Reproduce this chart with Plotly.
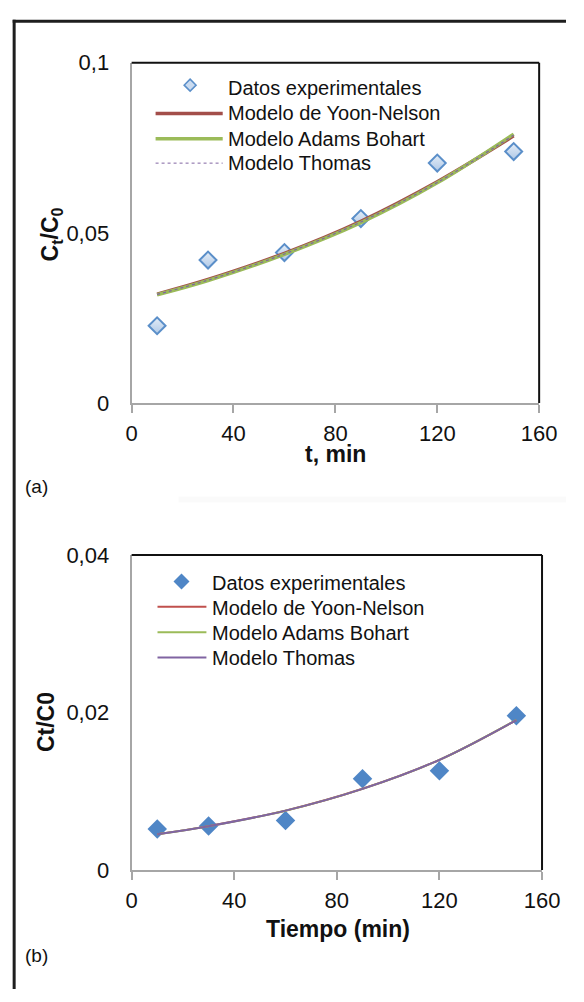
import plotly.graph_objects as go

# ---------------- data ----------------
t_a = [10, 30, 60, 90, 120, 150]
exp_a = [0.0227, 0.0420, 0.0442, 0.0542, 0.0705, 0.0739]
yoon_a = [0.0320, 0.0363, 0.0440, 0.0534, 0.0650, 0.0785]
adams_a = [0.0318, 0.0360, 0.0437, 0.0530, 0.0647, 0.0790]
thomas_a = [0.0319, 0.0361, 0.0438, 0.0532, 0.0648, 0.0787]

t_b = [10, 30, 60, 90, 120, 150]
exp_b = [0.0052, 0.0056, 0.0063, 0.0116, 0.0126, 0.0196]
yoon_b = [0.00455, 0.00558, 0.00755, 0.01032, 0.01400, 0.01905]
adams_b = [0.00454, 0.00557, 0.00754, 0.01031, 0.01399, 0.01906]
thomas_b = [0.00455, 0.00557, 0.00755, 0.01031, 0.01400, 0.01905]

x_ticks = [0, 40, 80, 120, 160]
y_ticks_a = [0, 0.05, 0.1]
y_ticks_a_text = ["0", "0,05", "0,1"]
y_ticks_b = [0, 0.02, 0.04]
y_ticks_b_text = ["0", "0,02", "0,04"]

legend_names = ["Datos experimentales", "Modelo de Yoon-Nelson",
                "Modelo Adams Bohart", "Modelo Thomas"]

# ---------------- layout helpers ----------------
W, H = 584, 1002
FONT = "Liberation Sans, Arial, sans-serif"


def px(x):
    return x / W


def py(y):
    return 1 - y / H


RED_A = "#A34E4A"
RED_B = "#C0504D"
GREEN = "#9BBB59"
PURPLE = "#8064A2"
BLUE = "#4F86C6"
AXIS_GRAY = "#A6A6A6"

fig = go.Figure()

# ---- panel (a) ----
fig.add_trace(go.Scatter(
    x=t_a, y=exp_a, mode="markers", name=legend_names[0], xaxis="x", yaxis="y",
    marker=dict(symbol="diamond", size=13, color="#E4EDF7",
                gradient=dict(type="vertical", color="#AFC8E6"),
                line=dict(color="#5B8FC9", width=2)),
    showlegend=False))
fig.add_trace(go.Scatter(x=t_a, y=yoon_a, mode="lines", name=legend_names[1],
                         line=dict(color=RED_A, width=3.5, shape="spline"),
                         xaxis="x", yaxis="y", showlegend=False))
fig.add_trace(go.Scatter(x=t_a, y=adams_a, mode="lines", name=legend_names[2],
                         line=dict(color=GREEN, width=3.5, shape="spline"),
                         xaxis="x", yaxis="y", showlegend=False))
fig.add_trace(go.Scatter(x=t_a, y=thomas_a, mode="lines", name=legend_names[3],
                         line=dict(color=PURPLE, width=1.2, dash="dot", shape="spline"),
                         xaxis="x", yaxis="y", showlegend=False))

# ---- panel (b) ----
fig.add_trace(go.Scatter(
    x=t_b, y=exp_b, mode="markers", name=legend_names[0], xaxis="x2", yaxis="y2",
    marker=dict(symbol="diamond", size=15, color=BLUE, line=dict(width=0)),
    showlegend=False))
fig.add_trace(go.Scatter(x=t_b, y=yoon_b, mode="lines", name=legend_names[1],
                         line=dict(color=RED_B, width=2, shape="spline"),
                         xaxis="x2", yaxis="y2", showlegend=False))
fig.add_trace(go.Scatter(x=t_b, y=adams_b, mode="lines", name=legend_names[2],
                         line=dict(color=GREEN, width=2, shape="spline"),
                         xaxis="x2", yaxis="y2", showlegend=False))
fig.add_trace(go.Scatter(x=t_b, y=thomas_b, mode="lines", name=legend_names[3],
                         line=dict(color=PURPLE, width=2, shape="spline"),
                         xaxis="x2", yaxis="y2", showlegend=False))

axis_common = dict(showgrid=False, zeroline=False, showline=True,
                   linecolor=AXIS_GRAY, linewidth=2,
                   tickfont=dict(family=FONT, size=22, color="#111"))

xa = dict(axis_common, range=[0, 160], tickvals=x_ticks, ticks="outside",
          ticklen=8, tickwidth=2, tickcolor=AXIS_GRAY, ticklabelstandoff=2)

fig.update_layout(
    width=W, height=H,
    margin=dict(l=0, r=0, t=0, b=0),
    paper_bgcolor="white", plot_bgcolor="white",
    showlegend=False,
    xaxis=dict(xa, domain=[px(131), px(556)], anchor="y"),
    yaxis=dict(axis_common, domain=[py(401), py(52)], range=[0, 0.1],
               tickvals=y_ticks_a, ticktext=y_ticks_a_text, ticks="",
               ticklabelstandoff=16, anchor="x"),
    xaxis2=dict(xa, domain=[px(131), px(559)], anchor="y2"),
    yaxis2=dict(axis_common, domain=[py(880), py(557)], range=[0, 0.04],
                tickvals=y_ticks_b, ticktext=y_ticks_b_text, ticks="",
                ticklabelstandoff=16, anchor="x2"),
)

shapes = []
# outer frame
shapes.append(dict(type="line", xref="paper", yref="paper", x0=px(7), x1=1.0,
                   y0=py(9.5), y1=py(9.5), line=dict(color="#1E1E1E", width=3)))
shapes.append(dict(type="line", xref="paper", yref="paper", x0=px(8.5), x1=px(8.5),
                   y0=py(8), y1=0, line=dict(color="#1E1E1E", width=3)))
# faint separator band
shapes.append(dict(type="rect", xref="paper", yref="paper", x0=px(180), x1=1.0,
                   y0=py(503), y1=py(497), fillcolor="rgba(0,0,0,0.018)",
                   line=dict(width=0), layer="below"))
# plot-area top/right black borders
for xr, yr in (("x domain", "y domain"), ("x2 domain", "y2 domain")):
    shapes.append(dict(type="line", xref=xr, yref=yr, x0=0, x1=1, y0=1, y1=1,
                       line=dict(color="#111", width=2)))
    shapes.append(dict(type="line", xref=xr, yref=yr, x0=1, x1=1, y0=0, y1=1,
                       line=dict(color="#111", width=2)))

# legend (a) keys
diamond_small = "M 0,6 L 6,0 L 0,-6 L -6,0 Z"
shapes.append(dict(type="path", xref="paper", yref="paper",
                   xsizemode="pixel", ysizemode="pixel",
                   xanchor=px(192), yanchor=py(75), path=diamond_small,
                   fillcolor="#CADBF0", line=dict(color="#5B8FC9", width=1.5)))
leg_a_rows = [104, 130, 155]
leg_a_styles = [dict(color=RED_A, width=3.5), dict(color=GREEN, width=3.5),
                dict(color=PURPLE, width=1, dash="dot")]
for yy, st in zip(leg_a_rows, leg_a_styles):
    shapes.append(dict(type="line", xref="paper", yref="paper", x0=px(156), x1=px(226),
                       y0=py(yy), y1=py(yy), line=st))

# legend (b) keys
diamond_big = "M 0,8 L 8,0 L 0,-8 L -8,0 Z"
shapes.append(dict(type="path", xref="paper", yref="paper",
                   xsizemode="pixel", ysizemode="pixel",
                   xanchor=px(183), yanchor=py(584), path=diamond_big,
                   fillcolor=BLUE, line=dict(width=0)))
leg_b_rows = [610, 636, 662]
leg_b_colors = [RED_B, GREEN, PURPLE]
for yy, c in zip(leg_b_rows, leg_b_colors):
    shapes.append(dict(type="line", xref="paper", yref="paper", x0=px(158), x1=px(209),
                       y0=py(yy), y1=py(yy), line=dict(color=c, width=2)))

fig.update_layout(shapes=shapes)

ann = []
txt_font = dict(family=FONT, size=20, color="#111")
for name, yy in zip(legend_names, [78, 104, 130, 155]):
    ann.append(dict(xref="paper", yref="paper", x=px(229), y=py(yy), text=name,
                    showarrow=False, xanchor="left", yanchor="middle", font=txt_font))
for name, yy in zip(legend_names, [586, 611, 637, 663]):
    ann.append(dict(xref="paper", yref="paper", x=px(213), y=py(yy), text=name,
                    showarrow=False, xanchor="left", yanchor="middle", font=txt_font))

bold = dict(family=FONT, size=23, color="#111")
ann.append(dict(xref="paper", yref="paper", x=px(344), y=py(453), text="<b>t, min</b>",
                showarrow=False, xanchor="center", yanchor="middle", font=bold))
ann.append(dict(xref="paper", yref="paper", x=px(346), y=py(940), text="<b>Tiempo (min)</b>",
                showarrow=False, xanchor="center", yanchor="middle", font=bold))
ann.append(dict(xref="paper", yref="paper", x=px(47), y=py(228),
                text="<b>C<sub>t</sub>/C<sub>0</sub></b>", textangle=-90,
                showarrow=False, xanchor="center", yanchor="middle", font=bold))
ann.append(dict(xref="paper", yref="paper", x=px(42), y=py(728), text="<b>Ct/C0</b>",
                textangle=-90, showarrow=False, xanchor="center", yanchor="middle",
                font=bold))
ann.append(dict(xref="paper", yref="paper", x=px(32), y=py(487), text="(a)",
                showarrow=False, xanchor="center", yanchor="middle",
                font=dict(family=FONT, size=19, color="#111")))
ann.append(dict(xref="paper", yref="paper", x=px(32), y=py(968), text="(b)",
                showarrow=False, xanchor="center", yanchor="middle",
                font=dict(family=FONT, size=19, color="#111")))
fig.update_layout(annotations=ann)

fig.write_html("out.html")
